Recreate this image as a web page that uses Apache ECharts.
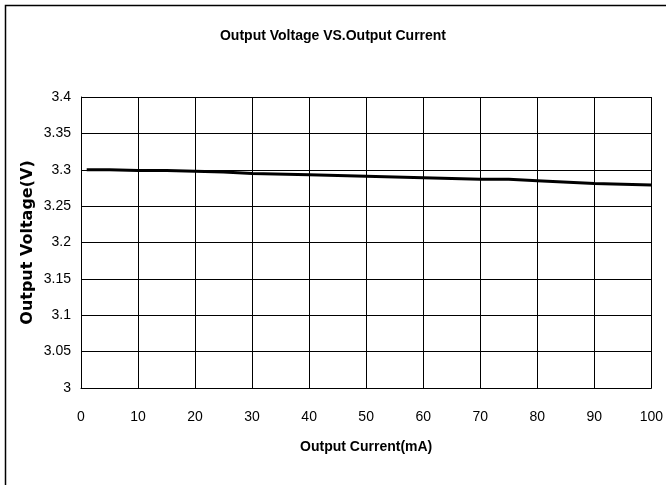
<!DOCTYPE html>
<html>
<head>
<meta charset="utf-8">
<script src="https://cdn.jsdelivr.net/npm/echarts@6/dist/echarts.min.js"></script>
<style>
html,body{margin:0;padding:0;background:#fff;}
#chart{width:666px;height:485px;}
</style>
</head>
<body>
<div id="chart"></div>
<script>
const currentMA = [1, 5, 10, 15, 20, 25, 30, 40, 50, 60, 70, 75, 80, 90, 100];
const voltageV = [3.300, 3.300, 3.299, 3.299, 3.298, 3.297, 3.295, 3.293, 3.291, 3.289, 3.287, 3.287, 3.285, 3.281, 3.279];
const titleText = 'Output Voltage VS.Output Current';
const xName = 'Output Current(mA)';
const yName = 'Output Voltage(V)';

const narrow = "'Liberation Sans Narrow', 'Arial Narrow', 'Liberation Sans', Arial, sans-serif";
const chart = echarts.init(document.getElementById('chart'), null, {renderer: 'canvas'});
chart.setOption({
  animation: false,
  backgroundColor: '#fff',
  graphic: [
    {type: 'rect', shape: {x: 5.5, y: 5.5, width: 720, height: 540}, style: {fill: 'none', stroke: '#000', lineWidth: 1.5}, silent: true}
  ],
  title: {
    text: titleText, left: 'center', top: 29, padding: 0,
    textStyle: {fontFamily: narrow, fontWeight: 'bold', fontSize: 14, color: '#000'}
  },
  grid: {left: 81, right: 13, top: 97, bottom: 97, show: false},
  xAxis: {
    type: 'value', min: 0, max: 100, interval: 10,
    name: xName, nameLocation: 'middle', nameGap: 52, nameMoveOverlap: false,
    nameTextStyle: {fontFamily: narrow, fontWeight: 'bold', fontSize: 14, color: '#000'},
    axisLine: {show: true, lineStyle: {color: '#000', width: 1}},
    axisTick: {show: false},
    axisLabel: {fontFamily: narrow, fontSize: 14, color: '#000', margin: 22},
    splitLine: {show: true, lineStyle: {color: '#000', width: 1}}
  },
  yAxis: {
    type: 'value', min: 3, max: 3.4, interval: 0.05,
    name: yName, nameLocation: 'middle', nameGap: 45, nameRotate: 90, nameMoveOverlap: false,
    nameTextStyle: {fontFamily: "'DejaVu Sans', 'Liberation Sans', sans-serif", fontWeight: 'bold', fontSize: 16, color: '#000'},
    axisLine: {show: true, lineStyle: {color: '#000', width: 1}},
    axisTick: {show: false},
    axisLabel: {fontFamily: narrow, fontSize: 14, color: '#000', margin: 10},
    splitLine: {show: true, lineStyle: {color: '#000', width: 1}}
  },
  series: [{
    type: 'line',
    data: currentMA.map((x, i) => [x, voltageV[i]]),
    showSymbol: false,
    lineStyle: {color: '#000', width: 3},
    smooth: false
  }]
});
</script>
</body>
</html>
